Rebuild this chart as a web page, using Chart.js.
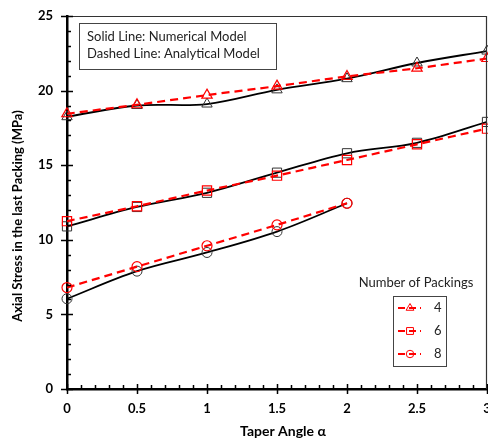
<!DOCTYPE html>
<html>
<head>
<meta charset="utf-8">
<script src="https://cdn.jsdelivr.net/npm/chart.js@4.4.1/dist/chart.umd.min.js"></script>
<style>
  html, body { margin: 0; padding: 0; background: #fff; }
  #wrap { width: 488px; height: 438px; }
</style>
</head>
<body>
<div id="wrap"><canvas id="stressChart" width="488" height="438"></canvas></div>
<script>
// taper angle (deg) and axial stress (MPa)
const angles = [0, 0.5, 1, 1.5, 2, 2.5, 3];
const num4 = [18.25, 19.0, 19.1, 20.05, 20.8, 21.85, 22.65];
const ana4 = [18.45, 19.05, 19.7, 20.3, 20.95, 21.5, 22.15];
const num6 = [10.9, 12.2, 13.15, 14.5, 15.8, 16.5, 17.9];
const ana6 = [11.25, 12.25, 13.3, 14.3, 15.35, 16.4, 17.45];
const num8 = [6.05, 7.9, 9.15, 10.55, 12.45];
const ana8 = [6.8, 8.2, 9.6, 11.0, 12.45];
const packings = ['4', '6', '8'];
const markers = ['triangle', 'rect', 'circle'];
const markerRadius = [6, 6.5, 5];

const FONT = 'Lato, "Liberation Sans", sans-serif';
const RED = '#ff0000';

function pairs(vals) {
  return vals.map((v, i) => ({ x: angles[i], y: v }));
}

const numerical = [num4, num6, num8];
const analytical = [ana4, ana6, ana8];

const datasets = [];
numerical.forEach((vals, i) => {
  datasets.push({
    label: 'num ' + packings[i],
    data: pairs(vals),
    borderColor: '#000',
    borderWidth: 1.8,
    tension: 0.35,
    pointStyle: markers[i],
    pointRadius: markerRadius[i],
    pointBorderColor: '#333',
    pointBorderWidth: 1,
    pointBackgroundColor: 'rgba(0,0,0,0)',
    clip: false,
    order: 2
  });
});
analytical.forEach((vals, i) => {
  datasets.push({
    label: packings[i],
    data: pairs(vals),
    borderColor: RED,
    borderWidth: 2.2,
    borderDash: [8, 5],
    tension: 0.3,
    pointStyle: markers[i],
    pointRadius: markerRadius[i],
    pointBorderColor: RED,
    pointBorderWidth: 1.2,
    pointBackgroundColor: 'rgba(0,0,0,0)',
    clip: false,
    order: 1
  });
});

function marker(ctx, style, x, y, r) {
  ctx.beginPath();
  if (style === 'triangle') {
    ctx.moveTo(x, y - r);
    ctx.lineTo(x + r * 0.866, y + r * 0.5);
    ctx.lineTo(x - r * 0.866, y + r * 0.5);
    ctx.closePath();
  } else if (style === 'rect') {
    const s = r * Math.SQRT1_2;
    ctx.rect(x - s, y - s, 2 * s, 2 * s);
  } else {
    ctx.arc(x, y, r, 0, Math.PI * 2);
  }
  ctx.stroke();
}

const extras = {
  id: 'extras',
  afterDraw(chart) {
    const { ctx, chartArea: a, scales: { x, y } } = chart;
    ctx.save();

    // frame top / right
    ctx.strokeStyle = '#333';
    ctx.lineWidth = 1.2;
    ctx.beginPath();
    ctx.moveTo(a.left, a.top + 0.5);
    ctx.lineTo(a.right, a.top + 0.5);
    ctx.moveTo(a.right - 0.5, a.top);
    ctx.lineTo(a.right - 0.5, a.bottom);
    ctx.stroke();

    // ticks
    ctx.strokeStyle = '#000';
    ctx.lineWidth = 1.5;
    ctx.beginPath();
    for (let v = 0; v <= 25; v++) {
      const py = Math.round(y.getPixelForValue(v)) + 0.5;
      if (v % 5 === 0) { ctx.moveTo(a.left - 6, py); ctx.lineTo(a.left + 6, py); }
      else { ctx.moveTo(a.left, py); ctx.lineTo(a.left + 4, py); }
    }
    for (let i = 0; i <= 30; i++) {
      const px = Math.round(x.getPixelForValue(i / 10)) + 0.5;
      if (i % 5 === 0) { ctx.moveTo(px, a.bottom - 5); ctx.lineTo(px, a.bottom + 5); }
      else { ctx.moveTo(px, a.bottom); ctx.lineTo(px, a.bottom - 4); }
    }
    ctx.stroke();

    // axis titles
    ctx.fillStyle = '#000';
    ctx.font = 'bold 13px ' + FONT;
    ctx.textAlign = 'center';
    ctx.textBaseline = 'middle';
    ctx.save();
    ctx.translate(18, 216);
    ctx.rotate(-Math.PI / 2);
    ctx.fillText('Axial Stress in the last Packing (MPa)', 0, 0);
    ctx.restore();
    ctx.font = 'bold 14px ' + FONT;
    ctx.fillText('Taper Angle \u03b1', 283, 431);

    // note box
    ctx.strokeStyle = '#444';
    ctx.lineWidth = 1;
    ctx.strokeRect(79.5, 23.5, 197, 46);
    ctx.fillStyle = '#222';
    ctx.font = '13px ' + FONT;
    ctx.textAlign = 'left';
    ctx.fillText('Solid Line: Numerical Model', 87, 37);
    ctx.fillText('Dashed Line: Analytical Model', 87, 54);

    // legend
    ctx.textAlign = 'center';
    ctx.fillText('Number of Packings', 416, 283);
    ctx.strokeStyle = '#444';
    ctx.strokeRect(393.5, 296.5, 53, 70);
    packings.forEach((p, i) => {
      const ly = 308 + i * 23;
      ctx.strokeStyle = RED;
      ctx.lineWidth = 2;
      ctx.setLineDash([7, 4]);
      ctx.beginPath();
      ctx.moveTo(398, ly);
      ctx.lineTo(421, ly);
      ctx.stroke();
      ctx.setLineDash([]);
      ctx.lineWidth = 1;
      marker(ctx, markers[i], 410, ly, markerRadius[i] * 0.75);
      ctx.fillStyle = '#222';
      ctx.textAlign = 'left';
      ctx.fillText(p, 434, ly);
    });
    ctx.restore();
  }
};

new Chart(document.getElementById('stressChart'), {
  type: 'line',
  data: { datasets },
  options: {
    responsive: false,
    devicePixelRatio: 1,
    animation: false,
    layout: { autoPadding: false, padding: { left: 0, right: 1, top: 16, bottom: 0 } },
    plugins: { legend: { display: false }, tooltip: { enabled: false } },
    scales: {
      x: {
        type: 'linear',
        min: 0,
        max: 3,
        ticks: {
          stepSize: 0.5,
          color: '#000',
          padding: 12,
          font: { family: FONT, size: 13, weight: 'bold' },
          callback: (v) => String(v)
        },
        grid: { display: false, drawTicks: false },
        border: { display: true, color: '#000', width: 2.5 },
        afterFit(s) { s.height = 49; s.paddingLeft = 0; s.paddingRight = 0; }
      },
      y: {
        min: 0,
        max: 25,
        ticks: { stepSize: 5, color: '#000', padding: 14, font: { family: FONT, size: 13, weight: 'bold' } },
        grid: { display: false, drawTicks: false },
        border: { display: true, color: '#000', width: 2.5 },
        afterFit(s) { s.width = 67; s.paddingTop = 0; s.paddingBottom = 0; }
      }
    }
  },
  plugins: [extras]
});
</script>
</body>
</html>
